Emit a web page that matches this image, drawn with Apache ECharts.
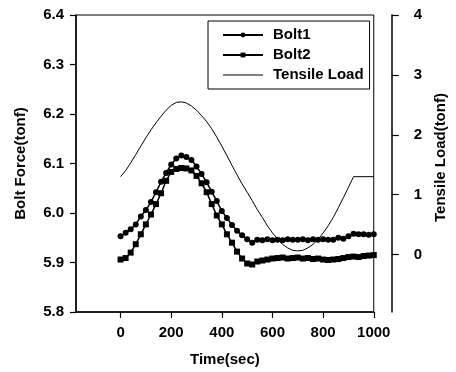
<!DOCTYPE html>
<html>
<head>
<meta charset="utf-8">
<script src="https://cdn.jsdelivr.net/npm/echarts@6/dist/echarts.min.js"></script>
<style>html,body{margin:0;padding:0;background:#fff}#c{width:456px;height:372px}</style>
</head>
<body>
<div id="c"></div>
<script>
// Time (sec)
var times = [0,20,40,60,80,100,120,140,160,180,200,220,240,260,280,300,320,340,360,380,400,420,440,460,480,500,520,540,560,580,600,620,640,660,680,700,720,740,760,780,800,820,840,860,880,900,920,940,960,980,1000];
// Bolt force (tonf)
var bolt1 = [5.953,5.960,5.967,5.977,5.993,6.006,6.022,6.042,6.063,6.081,6.098,6.110,6.116,6.113,6.107,6.094,6.079,6.062,6.043,6.024,6.004,5.990,5.976,5.964,5.955,5.947,5.940,5.946,5.945,5.947,5.945,5.946,5.945,5.947,5.946,5.946,5.947,5.945,5.947,5.946,5.947,5.946,5.946,5.950,5.948,5.953,5.958,5.957,5.957,5.956,5.957];
var bolt2 = [5.906,5.909,5.920,5.937,5.957,5.977,5.997,6.018,6.040,6.065,6.083,6.089,6.091,6.090,6.086,6.075,6.060,6.042,6.018,5.995,5.977,5.957,5.940,5.922,5.908,5.898,5.896,5.902,5.904,5.906,5.908,5.909,5.910,5.908,5.909,5.910,5.908,5.909,5.907,5.908,5.906,5.905,5.906,5.907,5.909,5.911,5.912,5.911,5.913,5.914,5.915];
// Tensile load (tonf)
var loadTimes = [0,20,40,60,80,100,120,140,160,180,200,220,240,260,280,300,320,340,360,380,400,420,440,460,480,500,520,540,560,580,600,620,640,660,680,700,720,740,760,780,800,820,840,860,880,900,920,1000];
var tensile = [1.30,1.40,1.53,1.67,1.81,1.95,2.08,2.20,2.31,2.41,2.49,2.54,2.55,2.53,2.48,2.41,2.32,2.22,2.10,1.96,1.81,1.65,1.49,1.33,1.18,1.04,0.90,0.75,0.62,0.48,0.36,0.26,0.17,0.11,0.07,0.06,0.07,0.11,0.17,0.25,0.36,0.48,0.62,0.78,0.95,1.12,1.30,1.30];
var xTicks = [0,200,400,600,800,1000];
var loadTicks = [0,1,2,3,4];

function pairs(xs, ys){ return xs.map(function(x,i){ return [x, ys[i]]; }); }

var FONT = '"Liberation Sans", Arial, sans-serif';
var txt = {fontFamily: FONT, fontWeight: 'bold', fontSize: 15, color: '#000'};

var chart = echarts.init(document.getElementById('c'), null, {renderer: 'canvas'});
chart.setOption({
  animation: false,
  backgroundColor: '#fff',
  grid: {left: 76, right: 74, top: 15, bottom: 58, show: true, borderColor: '#000', borderWidth: 1, backgroundColor: 'transparent'},
  legend: {
    orient: 'vertical', left: 208, top: 21,
    padding: [6, 6, 6, 14], itemGap: 4, itemWidth: 40, itemHeight: 6,
    borderColor: '#000', borderWidth: 1, backgroundColor: '#fff',
    textStyle: Object.assign({lineHeight: 16, padding: [0,0,0,5]}, txt),
    data: ['Bolt1', 'Bolt2', {name: 'Tensile Load', icon: 'path://M0,0L40,0L40,1L0,1Z'}]
  },
  xAxis: {
    type: 'value', min: -176, max: 1000,
    name: 'Time(sec)', nameLocation: 'middle', nameGap: 40, nameTextStyle: txt,
    axisLine: {onZero: false, lineStyle: {color: '#000', width: 1.5}},
    axisTick: {customValues: xTicks, length: 6, lineStyle: {color: '#000', width: 1.2}},
    axisLabel: Object.assign({customValues: xTicks, margin: 13, formatter: function(v){ return String(v); }}, txt),
    splitLine: {show: false}
  },
  yAxis: [{
    type: 'value', min: 5.8, max: 6.4, interval: 0.1, position: 'left',
    name: 'Bolt Force(tonf)', nameLocation: 'middle', nameGap: 48, nameRotate: 90, nameTextStyle: txt,
    axisLine: {show: true, onZero: false, lineStyle: {color: '#000', width: 1.5}},
    axisTick: {show: true, length: 6, lineStyle: {color: '#000', width: 1.2}},
    axisLabel: Object.assign({margin: 12, formatter: function(v){ return v.toFixed(1); }}, txt),
    splitLine: {show: false}
  }, {
    type: 'value', min: -0.96, max: 4, position: 'right', offset: 18,
    name: 'Tensile Load(tonf)', nameLocation: 'middle', nameGap: 32, nameRotate: 90,
    nameTextStyle: Object.assign({padding: [0,0,0,12]}, txt),
    axisLine: {show: true, onZero: false, lineStyle: {color: '#000', width: 1.5}},
    axisTick: {show: true, customValues: loadTicks, length: 7, lineStyle: {color: '#000', width: 1.2}},
    axisLabel: Object.assign({customValues: loadTicks, margin: 22, formatter: function(v){ return String(v); }}, txt),
    splitLine: {show: false}
  }],
  series: [{
    name: 'Bolt1', type: 'line', yAxisIndex: 0, data: pairs(times, bolt1),
    symbol: 'circle', symbolSize: 6, showSymbol: true,
    lineStyle: {color: '#000', width: 1.5}, itemStyle: {color: '#000'}
  }, {
    name: 'Bolt2', type: 'line', yAxisIndex: 0, data: pairs(times, bolt2),
    symbol: 'rect', symbolSize: 6, showSymbol: true,
    lineStyle: {color: '#000', width: 1.5}, itemStyle: {color: '#000'}
  }, {
    name: 'Tensile Load', type: 'line', yAxisIndex: 1, data: pairs(loadTimes, tensile),
    symbol: 'none', lineStyle: {color: '#000', width: 1}, itemStyle: {color: '#000'}
  }]
});
</script>
</body>
</html>
